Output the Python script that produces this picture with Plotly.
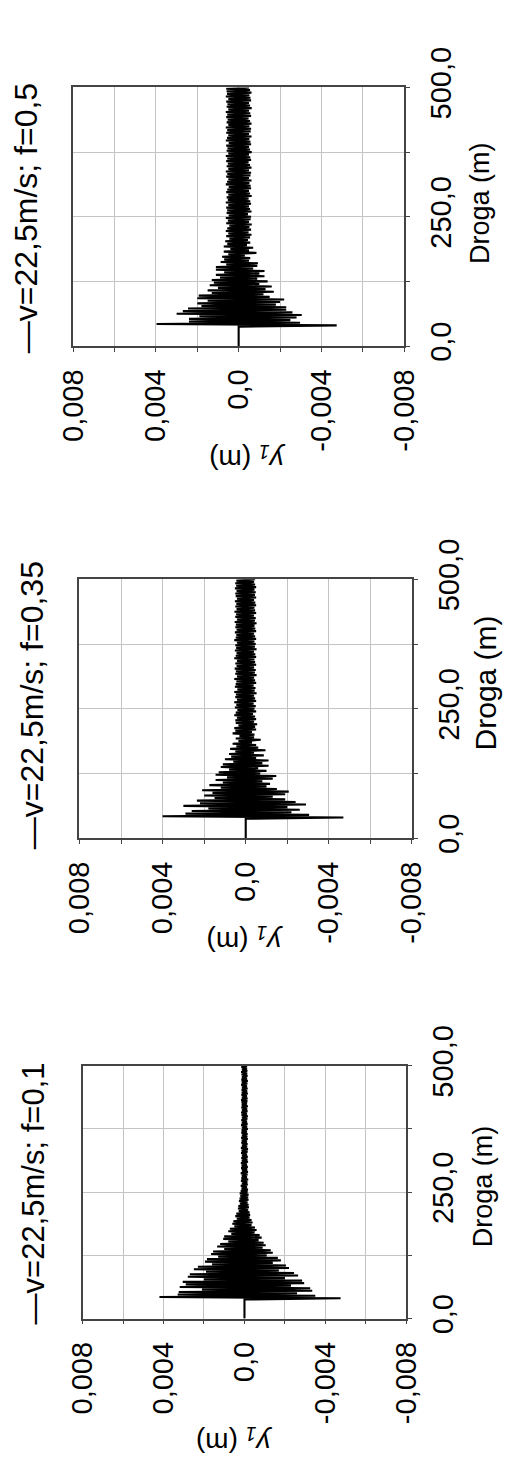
import plotly.graph_objects as go

# ---------------- data ----------------
# Droga (m): flat zero start, then oscillation sampled every 2.5 m from 40 m to 500 m
start_droga = [0.0, 37.5]
start_y1_mm = [0.0, 0.0]
osc_first_m = 40.0
osc_step_m = 2.5

# y1 (mm), interleaved trough/peak
y1_f01_mm = [
    -4.75, 4.2, -3.5, 3.3, -2.6, 3.25, -3.35, 2.1, -3.25, 3.2,
    -2.3, 2.9, -2.95, 3.05, -2.85, 2.0, -2.0, 2.8, -2.65, 2.7,
    -2.45, 1.9, -1.7, 2.5, -2.2, 2.3, -2.05, 1.6, -1.4, 1.95,
    -1.8, 1.85, -1.65, 1.3, -1.1, 1.65, -1.4, 1.55, -1.3, 1.0,
    -0.9, 1.35, -1.05, 1.2, -0.95, 0.8, -0.7, 1.05, -0.85, 1.0,
    -0.75, 0.65, -0.5, 0.8, -0.6, 0.72, -0.52, 0.5, -0.35, 0.6,
    -0.4, 0.55, -0.35, 0.38, -0.25, 0.45, -0.28, 0.4, -0.25, 0.28,
    -0.18, 0.32, -0.22, 0.3, -0.2, 0.22, -0.15, 0.27, -0.2, 0.24,
    -0.18, 0.2, -0.2, 0.23, -0.15, 0.18, -0.17, 0.14, -0.12, 0.18,
    -0.16, 0.12, -0.14, 0.17, -0.18, 0.15, -0.12, 0.13, -0.15, 0.18,
    -0.17, 0.12, -0.13, 0.16, -0.16, 0.14, -0.12, 0.17, -0.17, 0.13,
    -0.14, 0.15, -0.16, 0.12, -0.12, 0.16, -0.15, 0.14, -0.17, 0.17,
    -0.13, 0.12, -0.15, 0.15, -0.12, 0.13, -0.16, 0.16, -0.14, 0.12,
    -0.15, 0.15, -0.12, 0.14, -0.16, 0.12, -0.13, 0.16, -0.15, 0.13,
    -0.12, 0.15, -0.14, 0.12, -0.16, 0.14, -0.12, 0.16, -0.15, 0.12,
    -0.13, 0.15, -0.16, 0.13, -0.12, 0.14, -0.14, 0.16, -0.15, 0.12,
    -0.12, 0.15, -0.16, 0.13, -0.13, 0.14, -0.15, 0.12, -0.12, 0.16,
    -0.14, 0.13, -0.16, 0.15, -0.12, 0.12, -0.15, 0.14, -0.13, 0.16,
    -0.14, 0.12, -0.12, 0.15, -0.13,
]

y1_f035_mm = [
    -4.7, 4.0, -3.05, 2.9, -2.2, 2.6, -2.6, 1.8, -2.0, 3.0,
    -2.9, 2.2, -2.4, 2.35, -1.9, 1.5, -1.3, 2.0, -1.9, 1.6,
    -2.07, 2.1, -1.5, 1.2, -1.0, 1.75, -1.17, 1.1, -0.8, 1.45,
    -1.3, 0.9, -1.47, 1.45, -0.7, 1.3, -1.0, 0.8, -0.6, 1.2,
    -1.1, 1.1, -0.8, 0.6, -1.1, 1.0, -0.5, 0.7, -0.87, 0.8,
    -0.4, 0.5, -0.95, 0.75, -0.6, 0.45, -0.5, 0.63, -0.3, 0.35,
    -0.72, 0.48, -0.4, 0.3, -0.42, 0.63, -0.3, 0.5, -0.5, 0.55,
    -0.45, 0.35, -0.55, 0.48, -0.4, 0.5, -0.5, 0.42, -0.45, 0.55,
    -0.35, 0.48, -0.5, 0.4, -0.42, 0.52, -0.48, 0.45, -0.38, 0.55,
    -0.5, 0.42, -0.45, 0.5, -0.4, 0.47, -0.52, 0.55, -0.43, 0.4,
    -0.47, 0.52, -0.38, 0.48, -0.5, 0.45, -0.45, 0.55, -0.4, 0.42,
    -0.52, 0.5, -0.44, 0.47, -0.48, 0.53, -0.4, 0.44, -0.5, 0.5,
    -0.45, 0.42, -0.42, 0.55, -0.5, 0.48, -0.46, 0.44, -0.4, 0.52,
    -0.52, 0.46, -0.44, 0.5, -0.48, 0.42, -0.42, 0.55, -0.5, 0.48,
    -0.45, 0.45, -0.4, 0.52, -0.5, 0.44, -0.46, 0.5, -0.42, 0.47,
    -0.52, 0.53, -0.44, 0.42, -0.48, 0.5, -0.4, 0.46, -0.5, 0.54,
    -0.45, 0.44, -0.42, 0.5, -0.5, 0.45, -0.46, 0.52, -0.4, 0.42,
    -0.5, 0.48, -0.44, 0.5, -0.48, 0.44, -0.42, 0.52, -0.5, 0.46,
    -0.45, 0.5, -0.4, 0.45, -0.45,
]

y1_f05_mm = [
    -4.74, 3.97, -2.97, 2.4, -2.5, 2.4, -2.8, 1.9, -3.05, 3.0,
    -2.6, 2.7, -2.3, 2.45, -2.3, 1.8, -1.8, 2.0, -2.0, 1.5,
    -2.2, 2.0, -1.5, 1.93, -1.2, 1.3, -1.7, 1.5, -1.3, 1.0,
    -1.6, 1.4, -1.0, 1.2, -1.4, 1.3, -0.9, 0.9, -1.25, 1.1,
    -1.0, 0.7, -1.25, 1.1, -0.7, 1.1, -0.9, 0.6, -0.93, 0.87,
    -0.5, 0.7, -0.56, 0.8, -0.3, 0.5, -0.86, 0.72, -0.5, 0.4,
    -0.7, 0.72, -0.4, 0.55, -0.56, 0.65, -0.45, 0.45, -0.55, 0.6,
    -0.62, 0.5, -0.48, 0.62, -0.6, 0.55, -0.52, 0.45, -0.63, 0.6,
    -0.5, 0.52, -0.58, 0.62, -0.6, 0.48, -0.45, 0.58, -0.62, 0.55,
    -0.55, 0.6, -0.5, 0.5, -0.6, 0.62, -0.56, 0.52, -0.48, 0.58,
    -0.63, 0.5, -0.55, 0.6, -0.5, 0.55, -0.6, 0.48, -0.58, 0.62,
    -0.52, 0.56, -0.62, 0.5, -0.5, 0.6, -0.57, 0.55, -0.6, 0.62,
    -0.5, 0.5, -0.62, 0.58, -0.55, 0.52, -0.48, 0.6, -0.6, 0.55,
    -0.56, 0.62, -0.5, 0.5, -0.63, 0.58, -0.55, 0.54, -0.5, 0.6,
    -0.6, 0.48, -0.57, 0.62, -0.52, 0.56, -0.62, 0.5, -0.5, 0.6,
    -0.58, 0.55, -0.6, 0.62, -0.52, 0.5, -0.62, 0.58, -0.55, 0.53,
    -0.48, 0.6, -0.6, 0.55, -0.56, 0.62, -0.5, 0.5, -0.63, 0.58,
    -0.55, 0.54, -0.5, 0.6, -0.6, 0.5, -0.57, 0.62, -0.52, 0.56,
    -0.62, 0.58, -0.55, 0.6, -0.5,
]

legend_labels = ["v=22,5m/s; f=0,1", "v=22,5m/s; f=0,35", "v=22,5m/s; f=0,5"]
y1_tickvals = [0.008, 0.006, 0.004, 0.002, 0.0, -0.002, -0.004, -0.006, -0.008]
y1_ticktext = ["0,008", "", "0,004", "", "0,0", "", "-0,004", "", "-0,008"]
droga_tickvals = [0, 125, 250, 375, 500]
droga_ticktext = ["0,0", "", "250,0", "", "500,0"]

# ---------------- layout geometry (pixels) ----------------
W, H = 505, 1472
# panels: (left, right, top, bottom) of plot frame, bottom panel first
panels = [
    dict(series=y1_f01_mm, frame=(70, 415.7, 1066, 1329), title_xy=(18, 1199), title_size=31,
         droga_xy=(497, 1192), droga_size=27, y1_xy=(232, 1456)),
    dict(series=y1_f035_mm, frame=(66.7, 421.7, 560, 829.3), title_xy=(16, 691), title_size=32,
         droga_xy=(500, 668), droga_size=30, y1_xy=(243, 934)),
    dict(series=y1_f05_mm, frame=(60, 413.3, 48.3, 317.3), title_xy=(10, 184), title_size=32,
         droga_xy=(495, 169), droga_size=27, y1_xy=(246, 434)),
]

FONT = "Liberation Sans, Arial, sans-serif"
FRAME = "#444444"
GRID = "#c4c4c4"

fig = go.Figure()
layout = dict(width=W, height=H, margin=dict(l=0, r=0, t=0, b=0),
              paper_bgcolor="white", plot_bgcolor="white", showlegend=False,
              annotations=[])

def px(x):
    return x / W

def py(y):
    return 1 - y / H

for i, p in enumerate(panels):
    n = "" if i == 0 else str(i + 1)
    x0, x1, t, b = p["frame"]
    vals = p["series"]
    droga = start_droga + [osc_first_m + osc_step_m * k for k in range(len(vals))]
    y1 = [v / 1000.0 for v in start_y1_mm + vals]
    fig.add_trace(go.Scatter(x=y1, y=droga, mode="lines",
                             line=dict(color="black", width=2.1),
                             xaxis="x" + n, yaxis="y" + n, hoverinfo="skip"))
    layout["xaxis" + n] = dict(
        domain=[px(x0), px(x1)], anchor="y" + n, range=[0.008, -0.008],
        tickmode="array", tickvals=y1_tickvals, ticktext=y1_ticktext, tickangle=-90,
        ticks="outside", ticklen=4, tickwidth=1, tickcolor=FRAME,
        showgrid=True, gridcolor=GRID, gridwidth=1, zeroline=False,
        showline=True, linecolor=FRAME, linewidth=1.6, mirror=True,
        tickfont=dict(family=FONT, size=29, color="black"), ticklabelstandoff=6)
    layout["yaxis" + n] = dict(
        domain=[py(b), py(t)], anchor="x" + n, side="right", range=[0, 500],
        tickmode="array", tickvals=droga_tickvals, ticktext=droga_ticktext, tickangle=-90,
        ticks="outside", ticklen=4, tickwidth=1, tickcolor=FRAME,
        showgrid=True, gridcolor=GRID, gridwidth=1, zeroline=False,
        showline=True, linecolor=FRAME, linewidth=1.6, mirror=True,
        tickfont=dict(family=FONT, size=29, color="black"), ticklabelstandoff=6)
    tx, ty = p["title_xy"]
    layout["annotations"].append(dict(
        text="\u2014" + legend_labels[i], x=px(tx), y=py(ty), xref="paper", yref="paper",
        xanchor="center", yanchor="middle", textangle=-90, showarrow=False,
        font=dict(family=FONT, size=p["title_size"], color="black")))
    dx, dy = p["droga_xy"]
    layout["annotations"].append(dict(
        text="Droga (m)", x=px(dx), y=py(dy), xref="paper", yref="paper",
        xanchor="center", yanchor="middle", textangle=-90, showarrow=False,
        font=dict(family=FONT, size=p["droga_size"], color="black")))
    ux, uy = p["y1_xy"]
    layout["annotations"].append(dict(
        text="<i>y</i><sub><i>1</i></sub> (m)", x=px(ux), y=py(uy), xref="paper", yref="paper",
        xanchor="center", yanchor="middle", textangle=180, showarrow=False,
        font=dict(family=FONT, size=28, color="black")))

fig.update_layout(**layout)
fig.write_html("out.html")
